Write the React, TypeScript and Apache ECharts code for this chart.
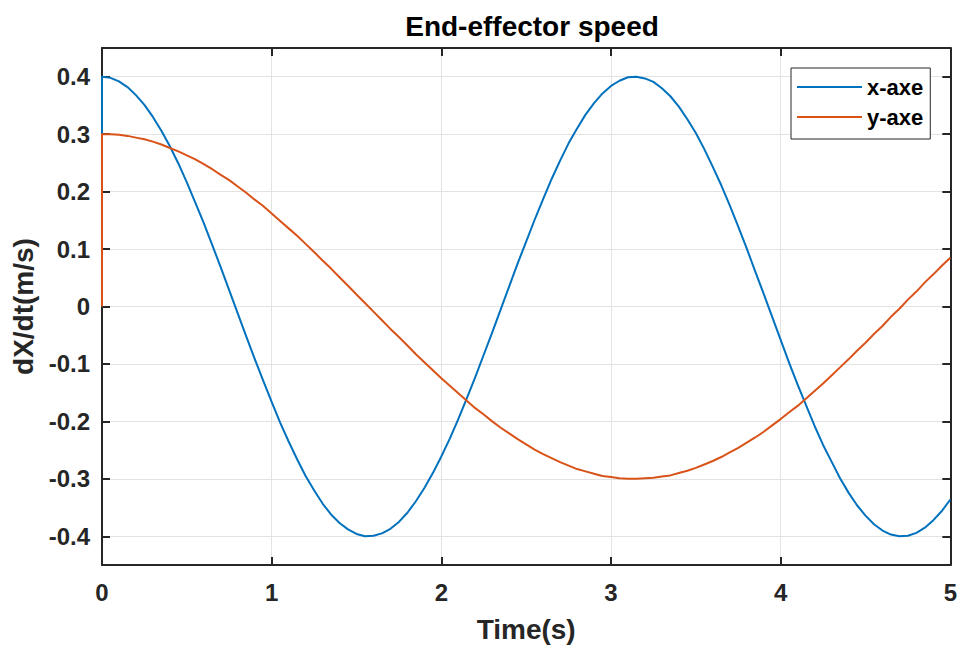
import React, { useEffect, useRef } from "react";
import * as echarts from "echarts";

const timeValues = [
  0, 0.05, 0.1, 0.15, 0.2, 0.25, 0.3, 0.35, 0.4, 0.45,
  0.5, 0.55, 0.6, 0.65, 0.7, 0.75, 0.8, 0.85, 0.9, 0.95,
  1.0, 1.05, 1.1, 1.15, 1.2, 1.25, 1.3, 1.35, 1.4, 1.45,
  1.5, 1.55, 1.6, 1.65, 1.7, 1.75, 1.8, 1.85, 1.9, 1.95,
  2.0, 2.05, 2.1, 2.15, 2.2, 2.25, 2.3, 2.35, 2.4, 2.45,
  2.5, 2.55, 2.6, 2.65, 2.7, 2.75, 2.8, 2.85, 2.9, 2.95,
  3.0, 3.05, 3.1, 3.15, 3.2, 3.25, 3.3, 3.35, 3.4, 3.45,
  3.5, 3.55, 3.6, 3.65, 3.7, 3.75, 3.8, 3.85, 3.9, 3.95,
  4.0, 4.05, 4.1, 4.15, 4.2, 4.25, 4.3, 4.35, 4.4, 4.45,
  4.5, 4.55, 4.6, 4.65, 4.7, 4.75, 4.8, 4.85, 4.9, 4.95,
  5.0,
];

const xAxeSpeed = [
  0.4, 0.398, 0.392, 0.382, 0.368, 0.351, 0.33, 0.306, 0.279, 0.249,
  0.216, 0.181, 0.145, 0.107, 0.068, 0.028, -0.012, -0.052, -0.091, -0.129,
  -0.166, -0.202, -0.235, -0.266, -0.295, -0.32, -0.343, -0.362, -0.377, -0.388,
  -0.396, -0.4, -0.399, -0.395, -0.387, -0.375, -0.359, -0.339, -0.316, -0.29,
  -0.261, -0.23, -0.196, -0.16, -0.123, -0.084, -0.045, -0.005, 0.035, 0.075,
  0.113, 0.151, 0.187, 0.222, 0.254, 0.284, 0.31, 0.334, 0.354, 0.371,
  0.384, 0.393, 0.399, 0.4, 0.397, 0.391, 0.38, 0.366, 0.348, 0.326,
  0.302, 0.274, 0.243, 0.211, 0.176, 0.139, 0.101, 0.061, 0.022, -0.018,
  -0.058, -0.098, -0.136, -0.172, -0.208, -0.241, -0.27, -0.299, -0.324, -0.346,
  -0.364, -0.379, -0.39, -0.397, -0.4, -0.399, -0.394, -0.385, -0.372, -0.356,
  -0.336,
];

const yAxeSpeed = [
  0.3, 0.3, 0.299, 0.297, 0.294, 0.291, 0.287, 0.282, 0.276, 0.27,
  0.263, 0.256, 0.248, 0.239, 0.229, 0.22, 0.209, 0.198, 0.186, 0.175,
  0.162, 0.149, 0.136, 0.123, 0.109, 0.095, 0.08, 0.066, 0.051, 0.036,
  0.021, 0.006, -0.009, -0.024, -0.039, -0.053, -0.068, -0.083, -0.097, -0.111,
  -0.125, -0.138, -0.151, -0.164, -0.177, -0.188, -0.2, -0.211, -0.221, -0.231,
  -0.24, -0.249, -0.257, -0.264, -0.271, -0.277, -0.283, -0.287, -0.291, -0.295,
  -0.297, -0.299, -0.3, -0.3, -0.299, -0.298, -0.296, -0.294, -0.29, -0.286,
  -0.281, -0.275, -0.269, -0.262, -0.254, -0.246, -0.237, -0.228, -0.218, -0.207,
  -0.196, -0.184, -0.173, -0.16, -0.147, -0.134, -0.12, -0.106, -0.092, -0.077,
  -0.063, -0.048, -0.034, -0.018, -0.004, 0.012, 0.026, 0.042, 0.056, 0.071,
  0.085,
];

// values at t = 0 before the initial jump
const xAxeStart = 0;
const yAxeStart = 0;

const seriesNames = ["x-axe", "y-axe"];
const seriesColors = ["#0072BD", "#D95319"];

const FONT = "'Liberation Sans', Arial, Helvetica, sans-serif";
const INK = "#262626";

export default function App() {
  const ref = useRef<HTMLDivElement>(null);

  useEffect(() => {
    if (!ref.current) return;
    const chart = echarts.init(ref.current, null, { renderer: "svg" });

    const xData = [[0, xAxeStart], ...timeValues.map((t, i) => [t, xAxeSpeed[i]])];
    const yData = [[0, yAxeStart], ...timeValues.map((t, i) => [t, yAxeSpeed[i]])];

    const hideEnds = (v: number) =>
      Math.abs(Math.abs(v) - 0.45) < 1e-9 ? "" : String(Math.round(v * 10) / 10);

    const axisLineStyle = { color: INK, width: 2 };
    const tickStyle = { color: INK, width: 2 };

    const option: any = {
      animation: false,
      backgroundColor: "#ffffff",
      title: {
        text: "End-effector speed",
        left: 527,
        textAlign: "center",
        top: 7,
        textStyle: { fontFamily: FONT, fontWeight: "bold", fontSize: 28, color: "#000" },
      },
      legend: {
        data: seriesNames,
        orient: "vertical",
        left: 791,
        top: 68,
        padding: [7, 7, 10, 6],
        itemGap: 6,
        itemWidth: 65,
        itemHeight: 2,
        icon: "rect",
        backgroundColor: "#ffffff",
        borderColor: INK,
        borderWidth: 1,
        borderRadius: 0,
        textStyle: { fontFamily: FONT, fontWeight: "bold", fontSize: 22, color: "#000", lineHeight: 24 },
      },
      grid: { left: 102, right: 8, top: 48, bottom: 82, containLabel: false },
      xAxis: [
        {
          type: "value",
          position: "bottom",
          min: 0,
          max: 5,
          interval: 1,
          name: "Time(s)",
          nameLocation: "middle",
          nameGap: 50,
          nameTextStyle: { fontFamily: FONT, fontWeight: "bold", fontSize: 28, color: INK },
          axisLine: { show: true, onZero: false, lineStyle: axisLineStyle },
          axisTick: { show: true, inside: true, length: 8, lineStyle: tickStyle },
          axisLabel: { fontFamily: FONT, fontWeight: "bold", fontSize: 24, color: INK, margin: 15 },
          splitLine: { show: true, lineStyle: { color: "#e3e3e3", width: 1 } },
        },
        {
          type: "value",
          position: "top",
          min: 0,
          max: 5,
          interval: 1,
          axisLine: { show: true, onZero: false, lineStyle: axisLineStyle },
          axisTick: { show: true, inside: true, length: 8, lineStyle: tickStyle },
          axisLabel: { show: false },
          splitLine: { show: false },
        },
      ],
      yAxis: [
        {
          type: "value",
          position: "left",
          min: -0.45,
          max: 0.45,
          splitNumber: 9,
          name: "dX/dt(m/s)",
          nameLocation: "middle",
          nameGap: 61,
          nameTextStyle: { fontFamily: FONT, fontWeight: "bold", fontSize: 28, color: INK },
          axisLine: { show: true, onZero: false, lineStyle: axisLineStyle },
          axisTick: { show: true, inside: true, length: 8, lineStyle: tickStyle },
          axisLabel: { fontFamily: FONT, fontWeight: "bold", fontSize: 24, color: INK, margin: 12, formatter: hideEnds },
          splitLine: { show: true, lineStyle: { color: "#e3e3e3", width: 1 } },
        },
        {
          type: "value",
          position: "right",
          min: -0.45,
          max: 0.45,
          splitNumber: 9,
          axisLine: { show: true, onZero: false, lineStyle: axisLineStyle },
          axisTick: { show: true, inside: true, length: 8, lineStyle: tickStyle },
          axisLabel: { show: false },
          splitLine: { show: false },
        },
      ],
      series: [
        {
          name: seriesNames[0],
          type: "line",
          data: xData,
          smooth: false,
          symbol: "none",
          color: seriesColors[0],
          lineStyle: { color: seriesColors[0], width: 2, join: "round" },
          z: 3,
        },
        {
          name: seriesNames[1],
          type: "line",
          data: yData,
          smooth: false,
          symbol: "none",
          color: seriesColors[1],
          lineStyle: { color: seriesColors[1], width: 2, join: "round" },
          z: 4,
        },
      ],
    };

    chart.setOption(option);
    return () => chart.dispose();
  }, []);

  return (
    <div
      ref={ref}
      style={{ position: "fixed", left: 0, top: 0, width: 960, height: 648, background: "#fff" }}
    />
  );
}
